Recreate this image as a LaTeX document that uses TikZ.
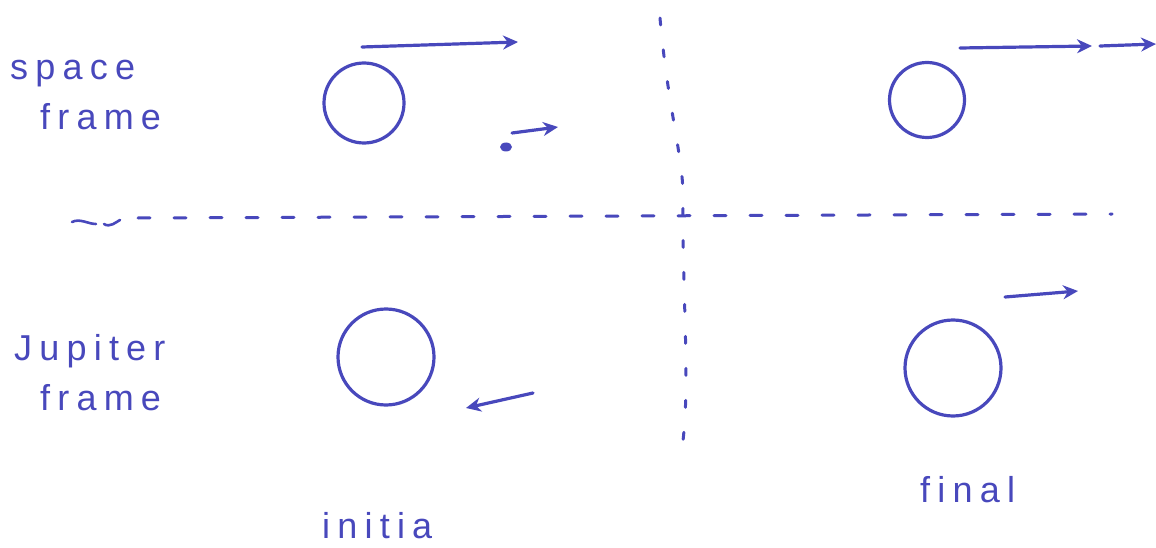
\documentclass[tikz,border=0pt]{standalone}
\usepackage{fontspec}
\setmainfont{Liberation Sans}
\usetikzlibrary{arrows.meta}
\definecolor{ink}{RGB}{72,72,188}
\tikzset{
  pen/.style={draw=ink, line width=3.2pt, line cap=round, line join=round},
  vec/.style={pen, -{Stealth[length=15pt,width=14pt]}},
  planet/.style={circle, draw=ink, line width=3.2pt, minimum size=#1, inner sep=0pt},
  hand/.style={text=ink, font=\fontsize{36}{40}\selectfont\addfontfeature{LetterSpace=20}, align=left, inner sep=0pt},
  dashline/.style={draw=ink, line width=3pt, dash pattern=on 12pt off 24pt, line cap=round}
}
\begin{document}
\begin{tikzpicture}[x=1pt,y=-1pt]
\useasboundingbox (0,0) rectangle (1156,548);
% planets
\node[planet=80pt] (p1) at (364,103) {};
\node[planet=75pt] (p2) at (927,100) {};
\node[planet=96pt] (p3) at (386,357) {};
\node[planet=96pt] (p4) at (953,368) {};
% velocity arrows
\coordinate (a1s) at (362,47); \coordinate (a1e) at (518,42);
\draw[vec] (a1s) -- (a1e);
\coordinate (a2s) at (512,133); \coordinate (a2e) at (558,127);
\draw[vec] (a2s) -- (a2e);
\coordinate (dot) at (506,147);
\fill[ink] (dot) ellipse (6pt and 4.5pt);
\coordinate (a3s) at (960,48); \coordinate (a3e) at (1092,46);
\draw[vec] (a3s) -- (a3e);
\coordinate (a4s) at (1100,46); \coordinate (a4e) at (1156,44);
\draw[vec] (a4s) -- (a4e);
\coordinate (a5s) at (533,393); \coordinate (a5e) at (466,408);
\draw[vec] (a5s) -- (a5e);
\coordinate (a6s) at (1005,297); \coordinate (a6e) at (1078,291);
\draw[vec] (a6s) -- (a6e);
% dividers
\coordinate (h0) at (72,224); \coordinate (h1) at (1112,214);
\draw[pen, line width=2.6pt] (72,222) .. controls (80,218) and (88,224) .. (96,224);
\draw[pen, line width=2.6pt] (104,224) .. controls (110,228) and (116,222) .. (120,220);
\draw[dashline] (138,218) -- (h1);
\coordinate (v0) at (660,18); \coordinate (v1) at (683,200); \coordinate (v2) at (680,460);
\draw[dashline, dash pattern=on 7pt off 25pt] (v0) .. controls (668,110) and (684,160) .. (v1)
   .. controls (682,300) and (692,400) .. (v2);
% labels
\node[hand, anchor=north west] (l1) at (10,60) {space\\[10pt]\hspace{30pt}frame};
\node[hand, anchor=north west] (l2) at (14,334) {Jupiter\\[10pt]\hspace{26pt}frame};
\node[hand, anchor=west] (l3) at (322,526) {initia};
\node[hand, anchor=west] (l4) at (920,490) {final};
\end{tikzpicture}
\end{document}
